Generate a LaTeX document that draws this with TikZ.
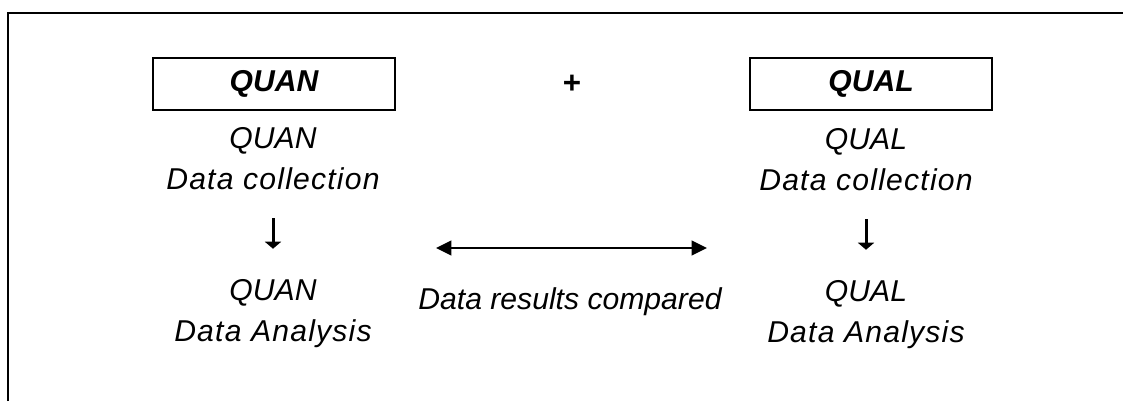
\documentclass[tikz,border=0pt]{standalone}
\usepackage{fontspec}
\setmainfont{Liberation Sans}
\usetikzlibrary{positioning, arrows.meta}

\begin{document}
\begin{tikzpicture}[
	x=0.75pt, y=-0.75pt,
	node distance=30.75pt,
	on grid,
	method/.style={
		draw,
		line width=1.5pt,
		minimum width=181.5pt,
		minimum height=39pt,
		font=\fontsize{22.6}{27}\selectfont\bfseries\itshape
	},
	phase/.style={
		inner sep=0pt,
		text height=15.75pt,
		text depth=0pt,
		font=\fontsize{22.6}{27}\selectfont\itshape
	},
	detail/.style={
		phase,
		font=\fontsize{22.6}{27}\selectfont\itshape\addfontfeature{LetterSpace=4}
	},
	flow/.style={
		line width=2.25pt,
		-{Triangle[width=12pt,length=5.25pt]},
		shorten <=21.75pt,
		shorten >=22.5pt
	},
	compare/.style={
		line width=1.5pt,
		{Triangle[width=11pt,length=11.5pt]}-{Triangle[width=11pt,length=11.5pt]}
	}
	]
	\useasboundingbox (0,0) rectangle (1123,401);
	% open frame round the design
	\draw[line width=1.5pt] (8,401) -- (8,13) -- (1123,13);

	% Strands
	\node[method] (quan) at (274,84) {QUAN};
	\node[font=\fontsize{23.5}{27}\selectfont\bfseries] (plus) at (572,84) {+};
	\node[method] (qual) at (871,84) {QUAL};

	% Quantitative strand
	\node[phase, anchor=base] (quanName) at (273,148) {QUAN};
	\node[detail, below=of quanName] (quanColl) {Data collection};
	\node[phase, below=83.25pt of quanColl] (quanRes) {QUAN};
	\node[detail, below=of quanRes] (quanAna) {Data Analysis};

	% Qualitative strand
	\node[phase, anchor=base] (qualName) at (866,149) {QUAL};
	\node[detail, below=of qualName] (qualColl) {Data collection};
	\node[phase, below=83.25pt of qualColl] (qualRes) {QUAL};
	\node[detail, below=of qualRes] (qualAna) {Data Analysis};

	% Merging
	\node[phase, anchor=base] (cmpText) at (570,309) {Data results compared};
	\coordinate (cmpL) at (436,248);
	\coordinate (cmpR) at (707,248);

	% Arrows
	\draw[flow] (quanColl) -- (quanRes);
	\draw[flow] (qualColl) -- (qualRes);
	\draw[compare] (cmpL) -- (cmpR);
\end{tikzpicture}
\end{document}
